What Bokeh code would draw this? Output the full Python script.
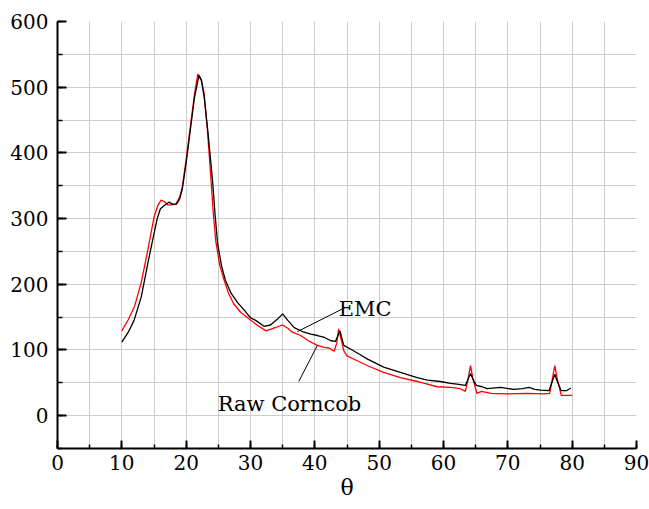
from bokeh.plotting import figure
from bokeh.models import Range1d, SingleIntervalTicker
from bokeh.core.properties import value
from bokeh.embed import file_html
from bokeh.resources import INLINE

# Raw Corncob (red)
raw_theta = [10, 11, 12, 13, 14, 15, 15.6, 16.1, 16.6, 17.1, 17.8, 18.4, 19.0, 19.4, 20.0, 20.7,
             21.3, 21.8, 22.3, 22.8, 23.3, 23.8, 24.2, 24.6, 25.2, 25.9, 26.6, 27.4, 28.5, 29.8,
             31.0, 32.4, 33.5, 35.0, 35.8, 36.5, 37.8, 39.0, 40.4, 41.5, 42.2, 43.0, 43.4, 43.7,
             44.0, 44.5, 45.0, 46.5, 48.2, 50.7, 53.3, 55.9, 57.5, 59.0, 61.1, 62.6, 63.4, 63.8,
             64.2, 64.6, 65.2, 65.9, 67.4, 69.9, 73.0, 75.6, 76.5, 76.9, 77.3, 77.7, 78.3, 79.0, 80.0]
raw_val = [129, 146, 167, 202, 250, 302, 320, 328, 326, 321, 321, 322, 333, 348, 390, 444,
           490, 520, 512, 490, 435, 368, 310, 266, 230, 206, 186, 170, 157, 147,
           138, 129, 133, 138, 133, 127, 122, 114, 107, 104, 103, 98, 110, 132,
           120, 99, 91, 84, 76, 66, 58, 52, 48, 44, 43, 41, 37, 55,
           76, 55, 34, 37, 34, 33, 34, 33, 34, 55, 76, 55, 31, 31, 31]

# EMC (black)
emc_theta = [10, 11, 11.9, 13, 13.4, 14, 15, 15.5, 16.0, 16.6, 17.3, 17.9, 18.5, 19.0, 19.4, 20.0,
             20.7, 21.3, 22.0, 22.4, 22.8, 23.4, 24.1, 24.5, 24.9, 25.5, 26.1, 27.0, 28.0, 29.0,
             29.5, 30.0, 30.8, 32.1, 33.1, 34.2, 35.0, 35.8, 36.8, 38.3, 39.4, 40.4, 41.5, 42.5,
             43.2, 43.9, 44.5, 45.6, 47.0, 48.2, 50.7, 53.3, 55.9, 57.5, 59.5, 61.1, 62.1, 63.4,
             63.8, 64.2, 64.6, 65.1, 66.0, 66.8, 68.9, 70.9, 72.3, 73.3, 74.2, 75.1, 76.4, 76.9,
             77.3, 77.7, 78.3, 79.1, 79.8]
emc_val = [112, 127, 145, 180, 200, 230, 277, 300, 315, 320, 325, 322, 322, 330, 345, 385,
           439, 485, 518, 510, 485, 430, 358, 305, 261, 228, 206, 186, 172, 161,
           155, 149, 145, 136, 138, 147, 155, 145, 134, 127, 124, 122, 119, 114,
           113, 129, 107, 101, 93, 86, 74, 66, 58, 54, 52, 49, 48, 46,
           55, 64, 55, 46, 44, 41, 43, 40, 41, 43, 40, 39, 38, 52,
           63, 52, 38, 38, 42]

# Annotations: label text, text anchor, leader line (x0, y0, x1, y1)
ann_text = ["EMC", "Raw Corncob"]
ann_x = [43.7, 24.9]
ann_y = [163, 18]
lead_x0 = [44.8, 37.5]
lead_y0 = [165, 52]
lead_x1 = [37.3, 40.4]
lead_y1 = [128, 107]

FONT = "DejaVu Serif"

p = figure(width=649, height=509, output_backend="svg", toolbar_location=None,
           x_range=Range1d(0, 90), y_range=Range1d(-50, 600),
           min_border_left=57, min_border_right=13, min_border_top=21, min_border_bottom=61)
p.outline_line_color = None
p.background_fill_color = "white"
p.border_fill_color = "white"

p.xaxis.ticker = SingleIntervalTicker(interval=10, num_minor_ticks=2)
p.yaxis.ticker = SingleIntervalTicker(interval=100, num_minor_ticks=2)

for ax in (p.xaxis[0], p.yaxis[0]):
    ax.axis_line_width = 2
    ax.axis_line_color = "black"
    ax.major_tick_line_width = 2
    ax.minor_tick_line_width = 1.5
    ax.major_tick_out = 0
    ax.minor_tick_out = 0
    ax.major_label_text_font = FONT
    ax.major_label_text_font_size = "20px"
    ax.major_label_text_color = "black"
    ax.axis_label_text_font = FONT
    ax.axis_label_text_font_style = "normal"
    ax.axis_label_text_color = "black"

p.xaxis.major_tick_in = 8
p.xaxis.minor_tick_in = 4
p.yaxis.major_tick_in = 9
p.yaxis.minor_tick_in = 5
p.xaxis.major_label_standoff = 6
p.yaxis.major_label_standoff = 9
p.xaxis.axis_label = "θ"
p.xaxis.axis_label_text_font_size = "22px"
p.xaxis.axis_label_standoff = 2

for g in (p.xgrid[0], p.ygrid[0]):
    g.grid_line_color = "#cccccc"
    g.grid_line_width = 1
    g.minor_grid_line_color = "#cccccc"
    g.minor_grid_line_width = 1

p.line(raw_theta, raw_val, line_color="#ff0000", line_width=1.3)
p.line(emc_theta, emc_val, line_color="black", line_width=1.3)

p.segment(x0=lead_x0, y0=lead_y0, x1=lead_x1, y1=lead_y1, line_color="black", line_width=1)
p.text(x=ann_x, y=ann_y, text=ann_text, text_font=value(FONT), text_font_size="21px",
       text_align="left", text_baseline="alphabetic", text_color="black")

open("out.html", "w").write(file_html(p, INLINE))
